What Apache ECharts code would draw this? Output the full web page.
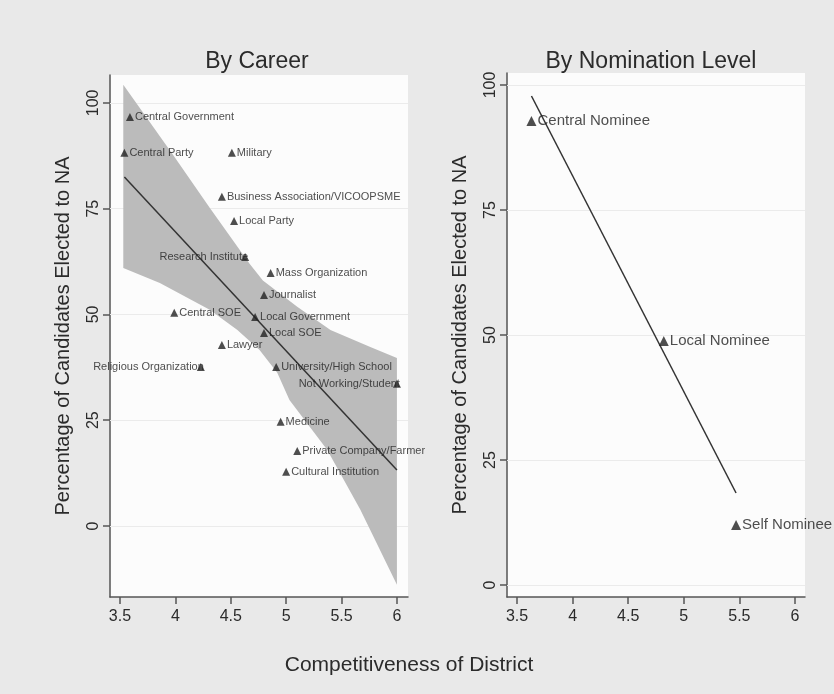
<!DOCTYPE html>
<html>
<head>
<meta charset="utf-8">
<script src="https://cdn.jsdelivr.net/npm/echarts@6/dist/echarts.min.js"></script>
<style>
  html, body { margin: 0; padding: 0; background: #e9e9e9; }
  #chart { width: 834px; height: 694px; }
</style>
</head>
<body>
<div id="chart"></div>
<script>
// By Career panel
var careers = ['Central Government', 'Central Party', 'Military', 'Business Association/VICOOPSME',
  'Local Party', 'Research Institute', 'Mass Organization', 'Journalist', 'Central SOE',
  'Local Government', 'Local SOE', 'Lawyer', 'Religious Organization', 'University/High School',
  'Not Working/Student', 'Medicine', 'Private Company/Farmer', 'Cultural Institution'];
var careerX = [3.59, 3.54, 4.51, 4.42, 4.53, 4.63, 4.86, 4.80, 3.99, 4.72, 4.80, 4.42, 4.23, 4.91, 6.00, 4.95, 5.10, 5.00];
var careerY = [96.7, 88.2, 88.2, 77.8, 72.1, 63.6, 59.8, 54.6, 50.4, 49.4, 45.6, 42.8, 37.6, 37.6, 33.6, 24.6, 17.7, 12.8];

// fitted line and confidence band
var careerFitX = [3.54, 6.0];
var careerFitY = [82.5, 13.2];
var bandUpperX = [3.53, 3.98, 4.31, 4.67, 4.79, 5.10, 5.40, 5.76, 6.00];
var bandUpperY = [104.3, 87.7, 75.2, 62.0, 58.0, 51.8, 46.3, 42.3, 39.7];
var bandLowerX = [3.53, 3.86, 4.31, 4.56, 4.76, 4.92, 5.03, 5.37, 5.67, 6.00];
var bandLowerY = [61.0, 57.4, 51.1, 46.3, 41.6, 36.2, 29.8, 18.0, 3.8, -13.9];

// By Nomination Level panel
var nominees = ['Central Nominee', 'Local Nominee', 'Self Nominee'];
var nomineeX = [3.63, 4.82, 5.47];
var nomineeY = [92.8, 48.8, 12.0];
var nomineeFitX = [3.63, 5.47];
var nomineeFitY = [97.8, 18.4];

var xTicks = [3.5, 4, 4.5, 5, 5.5, 6];
var yTicks = [0, 25, 50, 75, 100];

// labels drawn on the left of their marker
var leftLabelled = ['Research Institute', 'Religious Organization', 'Not Working/Student'];

var FONT = '"Liberation Sans", Arial, sans-serif';
var TEXT = '#2b2b2b';

function pairs(xs, ys) {
  return xs.map(function (x, i) { return [x, ys[i]]; });
}

function xAxisCfg(idx, min, max) {
  return {
    type: 'value', gridIndex: idx, min: min, max: max,
    axisLine: { onZero: false, lineStyle: { color: '#555', width: 1.5 } },
    axisTick: { customValues: xTicks, length: 7, lineStyle: { color: '#555', width: 1.5 } },
    axisLabel: { customValues: xTicks, color: TEXT, fontFamily: FONT, fontSize: 16, margin: 12 },
    splitLine: { show: false }
  };
}

function yAxisCfg(idx, min, max) {
  return {
    type: 'value', gridIndex: idx, min: min, max: max,
    name: 'Percentage of Candidates Elected to NA',
    nameLocation: 'middle', nameRotate: 90, nameGap: 37,
    nameTextStyle: { color: TEXT, fontFamily: FONT, fontSize: 20 },
    axisLine: { show: true, onZero: false, lineStyle: { color: '#555', width: 1.5 } },
    axisTick: { show: true, customValues: yTicks, length: 7, lineStyle: { color: '#555', width: 1.5 } },
    axisLabel: { customValues: yTicks, rotate: 90, color: TEXT, fontFamily: FONT, fontSize: 16, margin: 8 },
    splitLine: { show: false }
  };
}

function gridLines(idx) {
  return {
    type: 'line', xAxisIndex: idx, yAxisIndex: idx, data: [], z: 1, zlevel: 0, silent: true,
    markLine: {
      silent: true, symbol: 'none', label: { show: false }, z: 1,
      lineStyle: { color: '#ebebeb', width: 1, type: 'solid' },
      data: yTicks.map(function (v) { return { yAxis: v }; })
    }
  };
}

var chart = echarts.init(document.getElementById('chart'));

var option = {
  backgroundColor: '#e9e9e9',
  animation: false,
  title: [
    { text: 'By Career', left: 252, top: 45, textAlign: 'center',
      textStyle: { color: TEXT, fontFamily: FONT, fontSize: 23, fontWeight: 'normal' } },
    { text: 'By Nomination Level', left: 646, top: 45, textAlign: 'center',
      textStyle: { color: TEXT, fontFamily: FONT, fontSize: 23, fontWeight: 'normal' } },
    { text: 'Competitiveness of District', left: 404, top: 650, textAlign: 'center',
      textStyle: { color: TEXT, fontFamily: FONT, fontSize: 21, fontWeight: 'normal' } }
  ],
  grid: [
    { left: 110, top: 75, width: 298, height: 522, show: true, backgroundColor: '#fcfcfc', borderWidth: 0 },
    { left: 507, top: 73, width: 298, height: 524, show: true, backgroundColor: '#fcfcfc', borderWidth: 0 }
  ],
  xAxis: [xAxisCfg(0, 3.41, 6.10), xAxisCfg(1, 3.41, 6.09)],
  yAxis: [yAxisCfg(0, -16.8, 106.6), yAxisCfg(1, -2.4, 102.4)],
  series: [
    gridLines(0),
    gridLines(1),
    {
      type: 'custom', xAxisIndex: 0, yAxisIndex: 0, z: 5, silent: true,
      data: [[bandUpperX[0], bandUpperY[0]]],
      renderItem: function (params, api) {
        var pts = [];
        for (var i = 0; i < bandUpperX.length; i++) pts.push(api.coord([bandUpperX[i], bandUpperY[i]]));
        for (var j = bandLowerX.length - 1; j >= 0; j--) pts.push(api.coord([bandLowerX[j], bandLowerY[j]]));
        return { type: 'polygon', shape: { points: pts }, style: { fill: '#bbbbbb' } };
      }
    },
    {
      type: 'line', xAxisIndex: 0, yAxisIndex: 0, z: 6, symbol: 'none',
      data: pairs(careerFitX, careerFitY),
      lineStyle: { color: '#333', width: 1.5 }
    },
    {
      type: 'scatter', xAxisIndex: 0, yAxisIndex: 0, z: 7,
      symbol: 'triangle', symbolSize: 8,
      itemStyle: { color: '#222' },
      data: careers.map(function (name, i) {
        var left = leftLabelled.indexOf(name) >= 0;
        return {
          name: name, value: [careerX[i], careerY[i]],
          label: { position: left ? 'left' : 'right', distance: left ? -7 : 1 }
        };
      }),
      label: { show: true, formatter: '{b}', color: '#222', fontFamily: FONT, fontSize: 11 }
    },
    {
      type: 'line', xAxisIndex: 1, yAxisIndex: 1, z: 6, symbol: 'none',
      data: pairs(nomineeFitX, nomineeFitY),
      lineStyle: { color: '#333', width: 1.5 }
    },
    {
      type: 'scatter', xAxisIndex: 1, yAxisIndex: 1, z: 7,
      symbol: 'triangle', symbolSize: 10,
      itemStyle: { color: '#222' },
      data: nominees.map(function (name, i) {
        return { name: name, value: [nomineeX[i], nomineeY[i]] };
      }),
      label: { show: true, position: 'right', distance: 1, formatter: '{b}',
        color: '#222', fontFamily: FONT, fontSize: 15 }
    }
  ]
};

chart.setOption(option);
</script>
</body>
</html>
